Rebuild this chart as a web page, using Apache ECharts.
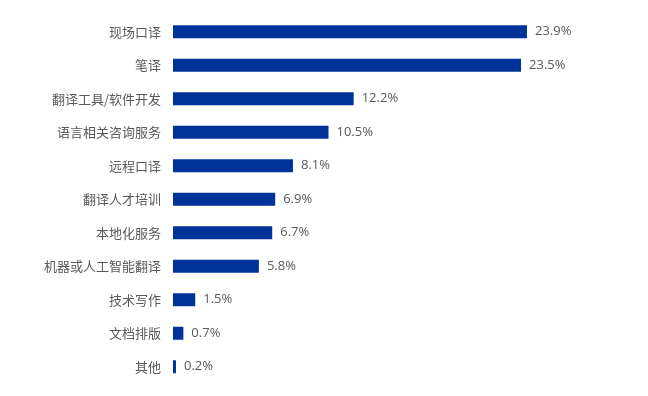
<!DOCTYPE html>
<html><head><meta charset="utf-8">
<script src="https://cdn.jsdelivr.net/npm/echarts@6/dist/echarts.min.js"></script>
<style>html,body{margin:0;padding:0;background:#fff}#c{width:648px;height:396px}</style>
</head><body><div id="c"></div>
<script>
const categories = ["现场口译","笔译","翻译工具/软件开发","语言相关咨询服务","远程口译","翻译人才培训","本地化服务","机器或人工智能翻译","技术写作","文档排版","其他"];
const values = [23.9,23.5,12.2,10.5,8.1,6.9,6.7,5.8,1.5,0.7,0.2];
const chart = echarts.init(document.getElementById('c'));
chart.setOption({
  animation:false,
  grid:{left:173,width:444.3,top:15,height:368.5,containLabel:false},
  xAxis:{type:'value',min:0,max:30,show:false},
  yAxis:{type:'category',inverse:true,data:categories,
    axisLine:{show:false},axisTick:{show:false},
    axisLabel:{color:'#595959',fontSize:13,margin:12,fontFamily:'Noto Sans CJK SC'}},
  series:[{type:'bar',data:values,barWidth:13,itemStyle:{color:'#003399'},
    label:{show:true,position:'right',distance:8,color:'#595959',fontSize:13,fontFamily:'Open Sans',
      formatter:p=>p.value.toFixed(1)+'%'}}]
});
</script></body></html>
